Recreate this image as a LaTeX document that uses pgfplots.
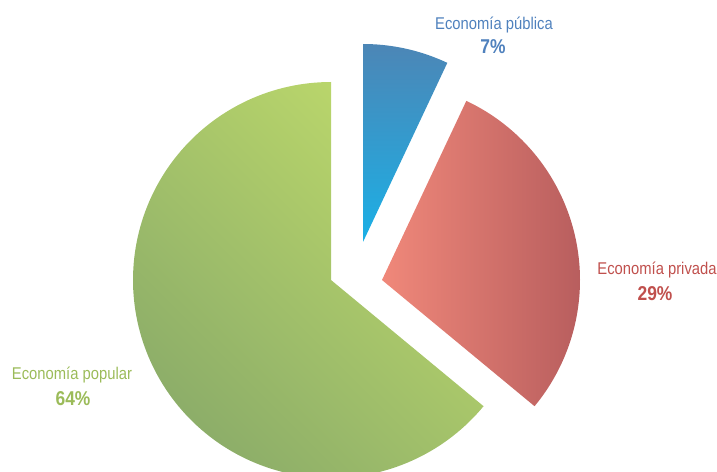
\documentclass[border=0pt]{standalone}
\usepackage{pgfplots}
\usepackage{pgfplotstable}
\pgfplotsset{compat=1.18}
\usepackage{fontspec}
\setmainfont{Liberation Sans}[FakeStretch=0.87]
\definecolor{bluetxt}{HTML}{4F81BD}
\definecolor{redtxt}{HTML}{C0504D}
\definecolor{greentxt}{HTML}{9BBB59}
\definecolor{blueTop}{HTML}{4C86B6}
\definecolor{blueBot}{HTML}{1BB0E6}
\definecolor{redL}{HTML}{F0887A}
\definecolor{redR}{HTML}{B85E5E}
\definecolor{greenLight}{HTML}{BDD96B}
\definecolor{greenDark}{HTML}{8CAD69}

% share (%), centre of the exploded slice (pixel coords, y from top), radius
\pgfplotstableread{
name value cx cy r
publica 7 363 242 198
privada 29 382 280 198
popular 64 331 280 198
}\slices

\pgfplotstablegetelem{0}{value}\of\slices \let\vA\pgfplotsretval
\pgfplotstablegetelem{1}{value}\of\slices \let\vB\pgfplotsretval
\pgfplotstablegetelem{2}{value}\of\slices \let\vC\pgfplotsretval
\pgfplotstablegetelem{0}{cx}\of\slices \let\xA\pgfplotsretval
\pgfplotstablegetelem{1}{cx}\of\slices \let\xB\pgfplotsretval
\pgfplotstablegetelem{2}{cx}\of\slices \let\xC\pgfplotsretval
\pgfplotstablegetelem{0}{cy}\of\slices \pgfmathsetmacro\yA{471-\pgfplotsretval}
\pgfplotstablegetelem{1}{cy}\of\slices \pgfmathsetmacro\yB{471-\pgfplotsretval}
\pgfplotstablegetelem{2}{cy}\of\slices \pgfmathsetmacro\yC{471-\pgfplotsretval}
\pgfplotstablegetelem{0}{r}\of\slices \let\R\pgfplotsretval

\pgfmathsetmacro\aZero{90}
\pgfmathsetmacro\aOne{90-3.6*\vA}
\pgfmathsetmacro\aTwo{\aOne-3.6*\vB}
\pgfmathsetmacro\aThree{\aTwo-3.6*\vC}

\begin{document}
\begin{tikzpicture}
\begin{axis}[
  name=ax,
  scale only axis,
  width=717pt, height=471pt,
  xmin=0, xmax=717, ymin=0, ymax=471,
  hide axis,
  clip=true,
]
\addplot[draw=none, top color=blueTop, bottom color=blueBot, shading angle=0,
  domain=\aOne:\aZero, samples=60, variable=\t]
  ({\xA+\R*cos(\t)}, {\yA+\R*sin(\t)}) -- (axis cs:\xA,\yA) -- cycle;
\addplot[draw=none, left color=redL, right color=redR,
  domain=\aTwo:\aOne, samples=80, variable=\t]
  ({\xB+\R*cos(\t)}, {\yB+\R*sin(\t)}) -- (axis cs:\xB,\yB) -- cycle;
\addplot[draw=none, top color=greenLight, bottom color=greenDark, shading angle=-45,
  domain=\aThree:\aTwo, samples=150, variable=\t]
  ({\xC+\R*cos(\t)}, {\yC+\R*sin(\t)}) -- (axis cs:\xC,\yC) -- cycle;

\node[text=bluetxt, font=\fontsize{17}{19}\selectfont] at (axis cs:494,446) {Economía pública};
\node[text=bluetxt, font=\fontsize{20}{22}\selectfont\bfseries] at (axis cs:493,424) {\vA\%};
\node[text=redtxt, font=\fontsize{17}{19}\selectfont] at (axis cs:657,201) {Economía privada};
\node[text=redtxt, font=\fontsize{20}{22}\selectfont\bfseries] at (axis cs:655,177) {\vB\%};
\node[text=greentxt, font=\fontsize{17}{19}\selectfont] at (axis cs:72,96) {Economía popular};
\node[text=greentxt, font=\fontsize{20}{22}\selectfont\bfseries] at (axis cs:73,72) {\vC\%};
\end{axis}
\pgfresetboundingbox
\path (ax.south west) rectangle (ax.north east);
\end{tikzpicture}
\end{document}
